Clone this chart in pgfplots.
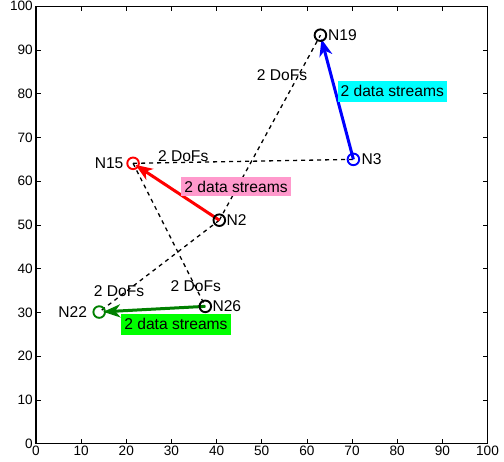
\documentclass[border=0pt]{standalone}
\usepackage{pgfplots}
\pgfplotsset{compat=1.18}
\usepackage{fontspec}
\setmainfont{Liberation Sans}
\usetikzlibrary{arrows.meta}
\definecolor{mgreen}{RGB}{0,128,0}
\definecolor{mpink}{RGB}{255,153,204}
\definecolor{mcyan}{RGB}{0,255,255}
\definecolor{mlime}{RGB}{0,255,0}
\newcommand{\lf}{\fontsize{15.6}{17}\selectfont}
\begin{document}
\begin{tikzpicture}
\begin{axis}[
  at={(0,0)}, anchor=south west,
  scale only axis, width=451.5pt, height=437.4pt,
  xmin=0, xmax=100, ymin=0, ymax=100,
  xtick={0,10,...,100}, ytick={0,10,...,100},
  tick align=inside, major tick length=5pt,
  tick style={black, line width=0.7pt},
  axis line style={black, line width=1.2pt},
  /pgf/number format/assume math mode=true,
  tick label style={font=\fontsize{13.6}{15}\selectfont},
  xticklabel style={inner sep=1pt, yshift=-1pt},
  yticklabel style={inner sep=1pt, xshift=-2pt},
  clip=false,
]
% dashed links
\addplot[black, line width=1.3pt, dash pattern=on 4pt off 4pt] coordinates {(21.5,64.1) (70.3,65.0)};
\addplot[black, line width=1.3pt, dash pattern=on 4pt off 4pt] coordinates {(21.5,64.1) (37.5,31.4)};
\addplot[black, line width=1.3pt, dash pattern=on 4pt off 4pt] coordinates {(40.6,51.1) (63.0,93.4)};
\addplot[black, line width=1.3pt, dash pattern=on 4pt off 4pt] coordinates {(40.6,51.1) (14.0,30.1)};
% arrows
\addplot[blue, line width=3pt, shorten >=4pt, -{Stealth[length=17pt,width=13pt,inset=5pt]}] coordinates {(70.3,65.0) (63.0,93.4)};
\addplot[red, line width=3pt, shorten >=3pt, -{Stealth[length=17pt,width=13pt,inset=5pt]}] coordinates {(40.6,51.1) (21.5,64.1)};
\addplot[mgreen, line width=3pt, shorten >=4pt, -{Stealth[length=17pt,width=13pt,inset=5pt]}] coordinates {(37.5,31.4) (14.0,30.1)};
% nodes
\addplot[only marks, mark=o, mark size=5.8pt, line width=1.9pt, black] coordinates {(63.0,93.4) (40.6,51.1) (37.5,31.4)};
\addplot[only marks, mark=o, mark size=5.8pt, line width=1.9pt, blue] coordinates {(70.3,65.0)};
\addplot[only marks, mark=o, mark size=5.8pt, line width=1.9pt, red] coordinates {(21.5,64.1)};
\addplot[only marks, mark=o, mark size=5.8pt, line width=1.9pt, mgreen] coordinates {(14.0,30.1)};
% node labels
\node[font=\lf, anchor=west, inner sep=0pt, xshift=7.5pt] at (axis cs:63.0,93.4) {N19};
\node[font=\lf, anchor=west, inner sep=0pt, xshift=8pt] at (axis cs:70.3,65.0) {N3};
\node[font=\lf, anchor=east, inner sep=0pt, xshift=-9.5pt] at (axis cs:21.5,64.1) {N15};
\node[font=\lf, anchor=west, inner sep=0pt, xshift=7pt] at (axis cs:40.6,51.1) {N2};
\node[font=\lf, anchor=east, inner sep=0pt, xshift=-12pt] at (axis cs:14.0,30.1) {N22};
\node[font=\lf, anchor=west, inner sep=0pt, xshift=7pt] at (axis cs:37.5,31.4) {N26};
% DoF labels
\node[font=\lf, inner sep=0pt] at (axis cs:54.5,84.2) {2 DoFs};
\node[font=\lf, inner sep=0pt] at (axis cs:32.6,65.8) {2 DoFs};
\node[font=\lf, inner sep=0pt] at (axis cs:18.4,34.8) {2 DoFs};
\node[font=\lf, inner sep=0pt] at (axis cs:35.4,36.1) {2 DoFs};
% stream labels
\node[font=\lf, fill=mcyan, inner xsep=3pt, inner ysep=0pt, minimum height=21pt] at (axis cs:78.9,80.6) {2 data streams};
\node[font=\lf, fill=mpink, inner xsep=3pt, inner ysep=0pt, minimum height=19pt] at (axis cs:44.3,58.8) {2 data streams};
\node[font=\lf, fill=mlime, inner xsep=3pt, inner ysep=0pt, minimum height=21pt] at (axis cs:31.0,27.3) {2 data streams};
\end{axis}
\pgfresetboundingbox
\path[use as bounding box] (-36pt,-18.3pt) rectangle (468pt,443.7pt);
\end{tikzpicture}
\end{document}
